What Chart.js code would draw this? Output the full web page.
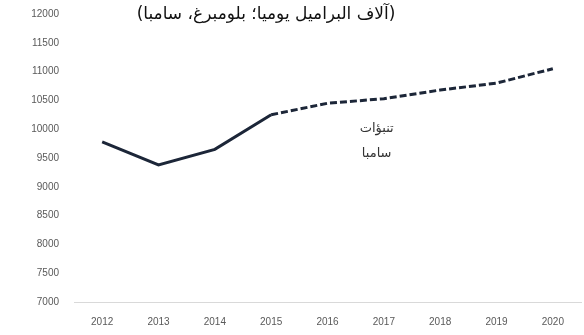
<!DOCTYPE html>
<html>
<head>
<meta charset="utf-8">
<script src="https://cdn.jsdelivr.net/npm/chart.js@4/dist/chart.umd.min.js"></script>
<style>
  html, body { margin: 0; padding: 0; background: #ffffff; }
  #wrap { width: 584px; height: 335px; position: relative; }
</style>
</head>
<body>
<div id="wrap"><canvas id="c" width="584" height="335"></canvas></div>
<script>
const years = ['2012', '2013', '2014', '2015', '2016', '2017', '2018', '2019', '2020'];
const production = [9780, 9380, 9650, 10250, 10450, 10530, 10680, 10800, 11050];
const forecastStartIndex = 3;
const titleText = '(آلاف البراميل يوميا؛ بلومبرغ، سامبا)';
const noteLines = ['تنبؤات', 'سامبا'];

const textPlugin = {
  id: 'texts',
  afterDraw(chart) {
    const ctx = chart.ctx;
    ctx.save();
    ctx.textAlign = 'center';
    ctx.textBaseline = 'middle';
    ctx.fillStyle = '#111111';
    ctx.font = '17px "DejaVu Sans", "Liberation Sans", sans-serif';
    ctx.direction = 'rtl';
    ctx.fillText(titleText, 266, 15);
    const xs = chart.scales.x;
    const cx = (xs.getPixelForValue(4) + xs.getPixelForValue(5)) / 2 + 21;
    ctx.font = '13px "DejaVu Sans", "Liberation Sans", sans-serif';
    ctx.fillStyle = '#333333';
    ctx.fillText(noteLines[0], cx, 129);
    ctx.fillText(noteLines[1], cx, 154);
    ctx.restore();
  }
};

new Chart(document.getElementById('c'), {
  type: 'line',
  data: {
    labels: years,
    datasets: [{
      data: production,
      borderColor: '#1c2638',
      borderWidth: 3,
      pointRadius: 0,
      tension: 0,
      fill: false,
      segment: {
        borderDash: ctx => ctx.p0DataIndex >= forecastStartIndex ? [7, 3] : undefined
      }
    }]
  },
  options: {
    responsive: false,
    animation: false,
    layout: { padding: { top: 14, left: 0, right: 3, bottom: 0 } },
    plugins: {
      legend: { display: false },
      title: { display: false },
      tooltip: { enabled: false }
    },
    scales: {
      x: {
        offset: true,
        grid: { display: false, drawTicks: false },
        border: { display: true, color: '#d9d9d9', width: 1 },
        afterFit: s => { s.height = 33; },
        ticks: {
          color: '#595959',
          padding: 14,
          maxRotation: 0,
          font: { family: '"Liberation Sans", Arial, sans-serif', size: 10 }
        }
      },
      y: {
        min: 7000,
        max: 12000,
        grid: { display: false, drawTicks: false },
        border: { display: false },
        afterFit: s => { s.width = 74; s.paddingTop = 0; s.paddingBottom = 0; },
        ticks: {
          stepSize: 500,
          color: '#595959',
          padding: 15,
          callback: v => String(v),
          font: { family: '"Liberation Sans", Arial, sans-serif', size: 10 }
        }
      }
    }
  },
  plugins: [textPlugin]
});
</script>
</body>
</html>
